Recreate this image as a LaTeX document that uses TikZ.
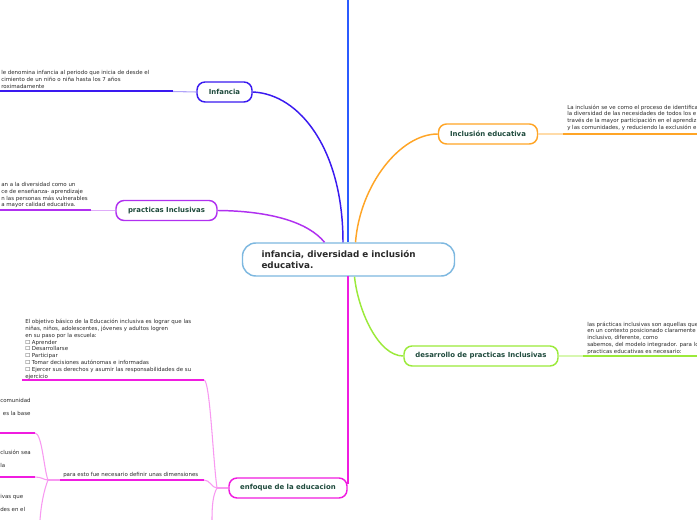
\documentclass[tikz,border=0pt]{standalone}
\usepackage{fontspec}
\setmainfont{DejaVu Sans}
\usetikzlibrary{calc}

% Colores del mapa
\definecolor{azul}{HTML}{2B5BFF}
\definecolor{violeta}{HTML}{3A1AF0}
\definecolor{morado}{HTML}{B030F0}
\definecolor{naranja}{HTML}{FFA526}
\definecolor{verde}{HTML}{9BEA3A}
\definecolor{rosa}{HTML}{F01CE0}
\definecolor{celeste}{HTML}{7DB8E0}
\definecolor{textoverde}{HTML}{1E4A3C}
\definecolor{texto}{HTML}{2A2A2A}

% Tipos de letra
\newcommand{\notafont}{\fontsize{4.1}{5.1}\selectfont}
\newcommand{\temafont}{\fontsize{5.2}{6}\selectfont\bfseries}
\newcommand{\titulofont}{\fontsize{6.6}{8.8}\selectfont\bfseries}

\begin{document}
\begin{tikzpicture}[x=0.75pt, y=-0.75pt,
    tema/.style={draw, line width=1.1pt, rounded corners=6pt, fill=white,
      text=textoverde, font=\temafont, minimum height=15pt, inner xsep=0pt},
    nota/.style={text=texto, font=\notafont, align=left, inner sep=0pt},
    rama/.style={line width=1.1pt},
    guia/.style={line width=1.5pt},
    suave/.style={line width=0.8pt}]

      % Fondo y margenes
      \path[use as bounding box, fill=white] (0,0) rectangle (697,520);

      % Tema central
      \node[draw=celeste, line width=1.1pt, rounded corners=10pt, fill=white,
        text=texto, font=\titulofont, align=left, text width=130.5pt,
        inner xsep=14.25pt, minimum height=24.75pt] (centro) at (348.5,259.5)
        {infancia, diversidad e inclusión\\educativa.};

      % Temas principales
      \node[tema, draw=violeta, minimum width=41.25pt] (infancia) at (224.5,92) {Infancia};
      \node[tema, draw=morado, minimum width=75.75pt] (practicas) at (166.5,210.5) {practicas Inclusivas};
      \node[tema, draw=naranja, minimum width=74.25pt] (inclusion) at (488,134) {Inclusión educativa};
      \node[tema, draw=verde, minimum width=115.5pt] (desarrollo) at (481,356) {desarrollo de practicas Inclusivas};
      \node[tema, draw=rosa, minimum width=88.5pt] (enfoque) at (288,488) {enfoque de la educacion};

      % Linea azul hacia arriba
      \coordinate (tope) at (348,0);
      \draw[azul, rama] (tope) -- (centro.north -| tope);

      % Conectores del centro
      \draw[violeta, rama] (infancia.east) .. controls (300,94) and (343,150) .. ($(centro.north)+(-5.5,0)$);
      \draw[morado, rama] (practicas.east) .. controls (270,211) and (308,222) .. ($(centro.north)+(-24,0)$);
      \draw[naranja, rama] (inclusion.west) .. controls (400,134) and (360,185) .. ($(centro.north)+(7,0)$);
      \draw[verde, rama] (desarrollo.west) .. controls (378,356) and (358,310) .. ($(centro.south)+(6,0)$);
      \coordinate (enfoque-t) at (348,276);
      \coordinate (enfoque-e) at (348,484);
      \draw[draw=rosa, line width=1.3pt] (enfoque-t) -- (enfoque-e);

      % Infancia
      \coordinate (infancia-a) at (173,91.5);
      \coordinate (infancia-b) at (0,91.5);
      \draw[violeta!40, suave] (infancia.west) -- (infancia-a);
      \draw[violeta, guia] (infancia-a) -- (infancia-b);
      \node[nota, anchor=north west] (infancia-txt) at (1,70.5)
        {le denomina infancia al periodo que inicia de desde el\\
         cimiento de un niño o niña hasta los 7 años\\
         roximadamente};

      % Practicas inclusivas
      \coordinate (practicas-a) at (91,210.5);
      \coordinate (practicas-b) at (0,210.5);
      \draw[morado!40, suave] (practicas.west) -- (practicas-a);
      \draw[morado, guia] (practicas-a) -- (practicas-b);
      \node[nota, anchor=north west] (practicas-txt) at (1,182)
        {an a la diversidad como un\\
         ce de enseñanza- aprendizaje\\
         n las personas más vulnerables\\
         a mayor calidad educativa.};

      % Inclusion educativa
      \coordinate (inclusion-a) at (563,134);
      \coordinate (inclusion-b) at (697,134);
      \draw[naranja!40, suave] (inclusion.east) -- (inclusion-a);
      \draw[naranja, guia] (inclusion-a) -- (inclusion-b);
      \node[nota, anchor=north west] (inclusion-txt) at (567,104.5)
        {La inclusión se ve como el proceso de identifica\\
         la diversidad de las necesidades de todos los e\\
         través de la mayor participación en el aprendiz\\
         y las comunidades, y reduciendo la exclusión e};

      % Desarrollo de practicas inclusivas
      \coordinate (desarrollo-a) at (583,356);
      \coordinate (desarrollo-b) at (697,356);
      \draw[verde!40, suave] (desarrollo.east) -- (desarrollo-a);
      \draw[verde, guia] (desarrollo-a) -- (desarrollo-b);
      \node[nota, anchor=north west] (desarrollo-txt) at (587,321.5)
        {las prácticas inclusivas son aquellas que\\
         en un contexto posicionado claramente\\
         inclusivo, diferente, como\\
         sabemos, del modelo integrador. para lo\\
         practicas educativas es necesario:};

      % Enfoque de la educacion
      \coordinate (enfoque-n) at (217,488);
      \coordinate (objetivo-a) at (204,380);
      \coordinate (objetivo-b) at (22,380);
      \coordinate (dimension-a) at (204,480);
      \coordinate (dimension-b) at (60,480);
      \coordinate (enfoque-c) at (212,520);
      \draw[rosa!45, suave] (enfoque.west) -- (enfoque-n);
      \draw[rosa!45, suave] (objetivo-a) .. controls (210,380) and (213,460) .. (enfoque-n);
      \draw[rosa!45, suave] (dimension-a) .. controls (210,480) and (212,488) .. (enfoque-n);
      \draw[rosa!45, suave] (enfoque-n) .. controls (213,495) and (212,505) .. (enfoque-c);
      \draw[rosa, guia] (objetivo-a) -- (objetivo-b);
      \draw[rosa, guia] (dimension-a) -- (dimension-b);
      \node[nota, anchor=north west] (objetivo-txt) at (25,319)
        {El objetivo básico de la Educación inclusiva es lograr que las\\
         niñas, niños, adolescentes, jóvenes y adultos logren\\
         en su paso por la escuela:\\
         ☐ Aprender\\
         ☐ Desarrollarse\\
         ☐ Participar\\
         ☐ Tomar decisiones autónomas e informadas\\
         ☐ Ejercer sus derechos y asumir las responsabilidades de su\\
         ejercicio};
      \node[nota, anchor=south west] (dimension-txt) at (63,477.5)
        {para esto fue necesario definir unas dimensiones};

      % Dimensiones
      \coordinate (dim-n) at (48,480);
      \coordinate (dim1-a) at (35,433);
      \coordinate (dim1-b) at (0,433);
      \coordinate (dim2-a) at (35,477);
      \coordinate (dim2-b) at (0,477);
      \coordinate (dim3) at (40,520);
      \draw[rosa!45, suave] (dimension-b) -- (dim-n);
      \draw[rosa!45, suave] (dim1-a) .. controls (42,433) and (44,470) .. (dim-n);
      \draw[rosa!45, suave] (dim2-a) .. controls (42,477) and (44,480) .. (dim-n);
      \draw[rosa!45, suave] (dim-n) .. controls (44,490) and (41,505) .. (dim3);
      \draw[rosa, guia] (dim1-a) -- (dim1-b);
      \draw[rosa, guia] (dim2-a) -- (dim2-b);
      \node[nota, anchor=north west, font=\fontsize{4.1}{9.75}\selectfont] (dim1-txt) at (0,398.5)
        {comunidad\\\hspace{2pt}es la base};
      \node[nota, anchor=north west, font=\fontsize{4.1}{9.75}\selectfont] (dim2-txt) at (0,449.5)
        {clusión sea\\la};
      \node[nota, anchor=north west, font=\fontsize{4.1}{9.75}\selectfont] (dim3-txt) at (0,494.5)
        {ivas que\\des en el};

\end{tikzpicture}
\end{document}
